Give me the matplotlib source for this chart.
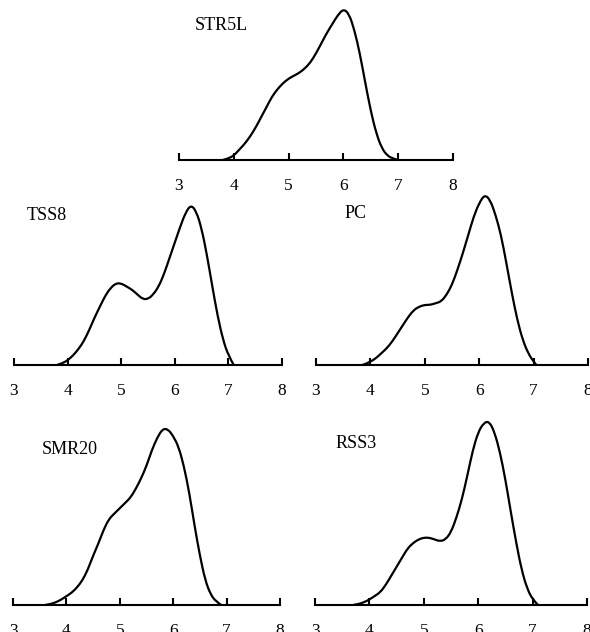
import matplotlib
matplotlib.use("Agg")
import matplotlib.pyplot as plt
from matplotlib.path import Path
from matplotlib.patches import PathPatch

plt.rcParams["font.family"] = ["Liberation Serif", "DejaVu Serif"]

# density curves (x, relative height)
str5l_x = [3.8, 3.9, 4.0, 4.1, 4.2, 4.3, 4.4, 4.5, 4.6, 4.7, 4.8, 4.9, 5.0, 5.1, 5.2, 5.3, 5.4,
           5.5, 5.6, 5.7, 5.8, 5.9, 6.0, 6.1, 6.2, 6.3, 6.4, 6.5, 6.6, 6.7, 6.8, 6.9, 7.0]
str5l_y = [0, 0.01, 0.03, 0.07, 0.11, 0.16, 0.22, 0.29, 0.36, 0.43, 0.48, 0.52, 0.55, 0.57, 0.59,
           0.62, 0.66, 0.72, 0.79, 0.86, 0.92, 0.98, 1.02, 0.99, 0.88, 0.72, 0.52, 0.33, 0.18, 0.08,
           0.03, 0.01, 0]

tss8_x = [3.8, 3.9, 4.0, 4.1, 4.2, 4.3, 4.4, 4.5, 4.6, 4.7, 4.8, 4.9, 5.0, 5.1, 5.2, 5.3, 5.4,
          5.5, 5.6, 5.7, 5.8, 5.9, 6.0, 6.1, 6.2, 6.3, 6.4, 6.5, 6.6, 6.7, 6.8, 6.9, 7.0, 7.1]
tss8_y = [0, 0.01, 0.03, 0.06, 0.10, 0.15, 0.22, 0.30, 0.37, 0.44, 0.49, 0.52, 0.52, 0.50, 0.48,
          0.45, 0.42, 0.42, 0.45, 0.50, 0.58, 0.68, 0.78, 0.88, 0.97, 1.02, 0.98, 0.87, 0.70, 0.50,
          0.31, 0.16, 0.06, 0]

pc_x = [3.85, 3.9, 4.0, 4.1, 4.2, 4.3, 4.4, 4.5, 4.6, 4.7, 4.8, 4.9, 5.0, 5.1, 5.2, 5.3, 5.4,
        5.5, 5.6, 5.7, 5.8, 5.9, 6.0, 6.1, 6.2, 6.3, 6.4, 6.5, 6.6, 6.7, 6.8, 6.9, 7.0, 7.05]
pc_y = [0, 0.005, 0.02, 0.04, 0.07, 0.10, 0.14, 0.19, 0.24, 0.29, 0.33, 0.35, 0.36, 0.36, 0.37,
        0.38, 0.42, 0.48, 0.57, 0.67, 0.78, 0.89, 0.97, 1.02, 0.99, 0.90, 0.78, 0.61, 0.43, 0.27,
        0.15, 0.07, 0.02, 0]

smr20_x = [3.6, 3.7, 3.8, 3.9, 4.0, 4.1, 4.2, 4.3, 4.4, 4.5, 4.6, 4.7, 4.8, 4.9, 5.0, 5.1, 5.2,
           5.3, 5.4, 5.5, 5.6, 5.7, 5.8, 5.9, 6.0, 6.1, 6.2, 6.3, 6.4, 6.5, 6.6, 6.7, 6.8, 6.9]
smr20_y = [0, 0.005, 0.015, 0.03, 0.05, 0.07, 0.10, 0.14, 0.20, 0.28, 0.35, 0.43, 0.49, 0.52,
           0.55, 0.58, 0.61, 0.66, 0.72, 0.79, 0.88, 0.95, 1.00, 1.00, 0.96, 0.90, 0.79, 0.64,
           0.45, 0.28, 0.14, 0.06, 0.02, 0]

rss3_x = [3.7, 3.8, 3.9, 4.0, 4.1, 4.2, 4.3, 4.4, 4.5, 4.6, 4.7, 4.8, 4.9, 5.0, 5.1, 5.2, 5.3,
          5.4, 5.5, 5.6, 5.7, 5.8, 5.9, 6.0, 6.1, 6.2, 6.3, 6.4, 6.5, 6.6, 6.7, 6.8, 6.9, 7.0, 7.1]
rss3_y = [0, 0.005, 0.015, 0.03, 0.05, 0.07, 0.11, 0.16, 0.21, 0.26, 0.31, 0.34, 0.36, 0.37,
          0.37, 0.36, 0.35, 0.36, 0.40, 0.48, 0.58, 0.71, 0.85, 0.95, 1.00, 1.01, 0.95, 0.84, 0.69,
          0.51, 0.34, 0.19, 0.09, 0.03, 0]

ticks = [3, 4, 5, 6, 7, 8]


def smooth_path(xs, ys):
    # quadratic curve: data points as control points, midpoints on the curve
    pts = list(zip(xs, ys))
    verts = [pts[0]]
    codes = [Path.MOVETO]
    for i in range(1, len(pts) - 1):
        mid = ((pts[i][0] + pts[i + 1][0]) / 2, (pts[i][1] + pts[i + 1][1]) / 2)
        if i == len(pts) - 2:
            mid = pts[-1]
        verts += [pts[i], mid]
        codes += [Path.CURVE3, Path.CURVE3]
    return Path(verts, codes)


W, H = 590, 632
fig = plt.figure(figsize=(W / 100, H / 100), dpi=100)

# (name, x, y, left px, right px, baseline px, peak px, label px)
panels = [
    ("STR5L", str5l_x, str5l_y, 179, 453, 160, 12, (195, 25)),
    ("TSS8", tss8_x, tss8_y, 14, 282, 365, 208, (27, 215)),
    ("PC", pc_x, pc_y, 316, 588, 365, 198, (345, 214)),
    ("SMR20", smr20_x, smr20_y, 13, 280, 605, 429, (42, 449)),
    ("RSS3", rss3_x, rss3_y, 315, 587, 605, 423, (336, 444)),
]

for name, xs, ys, x0, x1, base, peak, (lx, ly) in panels:
    ax = fig.add_axes([x0 / W, 1 - base / H, (x1 - x0) / W, (base - peak) / H])
    ax.add_patch(PathPatch(smooth_path(xs, ys), facecolor="none", edgecolor="black",
                           linewidth=1.6, clip_on=False))
    ax.set_xlim(3, 8)
    ax.set_ylim(0, 1)
    for side in ("top", "right", "left"):
        ax.spines[side].set_visible(False)
    ax.spines["bottom"].set_linewidth(1.5)
    ax.set_yticks([])
    ax.set_xticks(ticks)
    ax.tick_params(axis="x", direction="in", length=5, width=1.5, pad=13, labelsize=12.5)
    ax.patch.set_alpha(0)
    fig.text(lx / W, 1 - ly / H, name, fontsize=13, va="center", ha="left")

fig.savefig("out.png", dpi=100)
